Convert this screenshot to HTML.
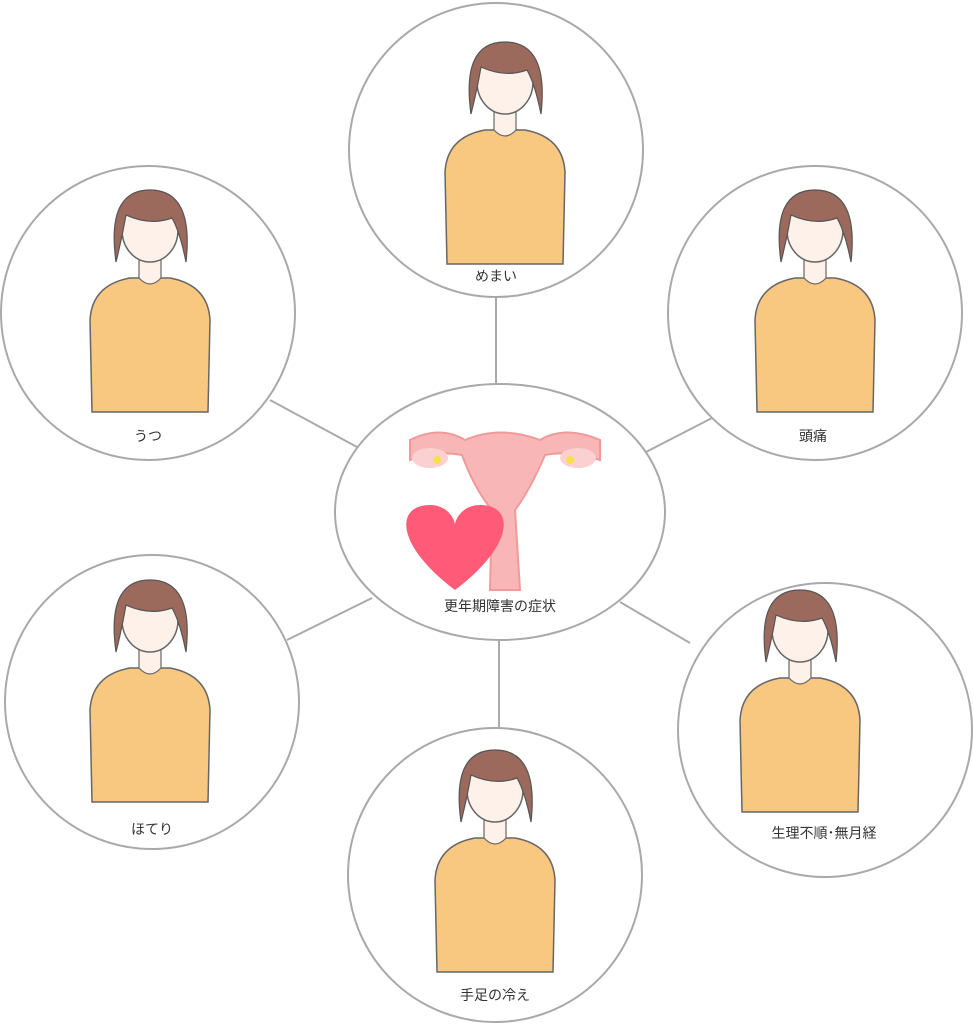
<!DOCTYPE html>
<html><head><meta charset="utf-8"><style>
html,body{margin:0;padding:0;background:#fff;}
svg{display:block}
text{font-family:"Liberation Sans","Noto Sans CJK JP",sans-serif;font-size:14px;fill:#333;text-anchor:middle}
</style></head><body>
<svg width="973" height="1024" viewBox="0 0 973 1024" xmlns="http://www.w3.org/2000/svg">
<defs>
<g id="fig">
  <path d="M-58,182 L-60,90 Q-58,55 -20,48 L20,48 Q58,55 60,90 L58,182 Z" fill="#f8c880" stroke="#666" stroke-width="1.5"/>
  <path d="M-11,22 L-11,48 Q0,60 11,48 L11,22 Z" fill="#fdf1ea" stroke="#666" stroke-width="1.2"/>
  <ellipse cx="0" cy="0" rx="28" ry="32" fill="#fdf1ea" stroke="#666" stroke-width="1.5"/>
  <path d="M-34,32 Q-44,-40 0,-40 Q44,-40 36,32 Q30,2 22,-12 Q0,-4 -24,-15 Q-28,8 -34,32 Z" fill="#9b6a5c" stroke="#555" stroke-width="1.2"/>
</g>
</defs>
<g stroke="#aaa" stroke-width="2">
<line x1="496" y1="297" x2="496" y2="385"/>
<line x1="270" y1="400" x2="357" y2="447"/>
<line x1="712" y1="418" x2="646" y2="452"/>
<line x1="287" y1="640" x2="372" y2="598"/>
<line x1="620" y1="602" x2="690" y2="643"/>
<line x1="499" y1="640" x2="499" y2="728"/>
</g>
<g fill="#fff" stroke="#a9a9a9" stroke-width="2">
<circle cx="496" cy="150" r="147"/>
<circle cx="148" cy="313" r="147"/>
<circle cx="815" cy="313" r="147"/>
<circle cx="152" cy="702" r="147"/>
<circle cx="825" cy="730" r="147"/>
<circle cx="495" cy="875" r="147"/>
<ellipse cx="500" cy="512" rx="165" ry="128"/>
</g>
<use href="#fig" transform="translate(505,82)"/>
<use href="#fig" transform="translate(150,230)"/>
<use href="#fig" transform="translate(815,230)"/>
<use href="#fig" transform="translate(150,620)"/>
<use href="#fig" transform="translate(800,630)"/>
<use href="#fig" transform="translate(495,790)"/>
<path d="M410,440 Q440,425 465,440 Q500,425 540,440 Q565,425 600,440 L600,460 Q570,450 545,455 Q530,490 515,510 L520,590 L490,590 L492,510 Q475,490 462,455 Q435,450 410,460 Z" fill="#f8b6b6" stroke="#f09a9a" stroke-width="2"/>
<ellipse cx="430" cy="458" rx="18" ry="10" fill="#fbd0d0"/>
<ellipse cx="578" cy="458" rx="18" ry="10" fill="#fbd0d0"/>
<circle cx="437" cy="460" r="4" fill="#f5e050"/>
<circle cx="570" cy="460" r="4" fill="#f5e050"/>
<path d="M455,590 C395,545 395,505 430,505 C448,505 455,520 455,525 C455,520 462,505 480,505 C515,505 515,545 455,590 Z" fill="#ff5a78"/>
<text x="496" y="281">めまい</text>
<text x="148" y="441">うつ</text>
<text x="813" y="441">頭痛</text>
<text x="152" y="834">ほてり</text>
<text x="824" y="838">生理不順･無月経</text>
<text x="495" y="1000">手足の冷え</text>
<text x="500" y="611">更年期障害の症状</text>
</svg>
</body></html>
